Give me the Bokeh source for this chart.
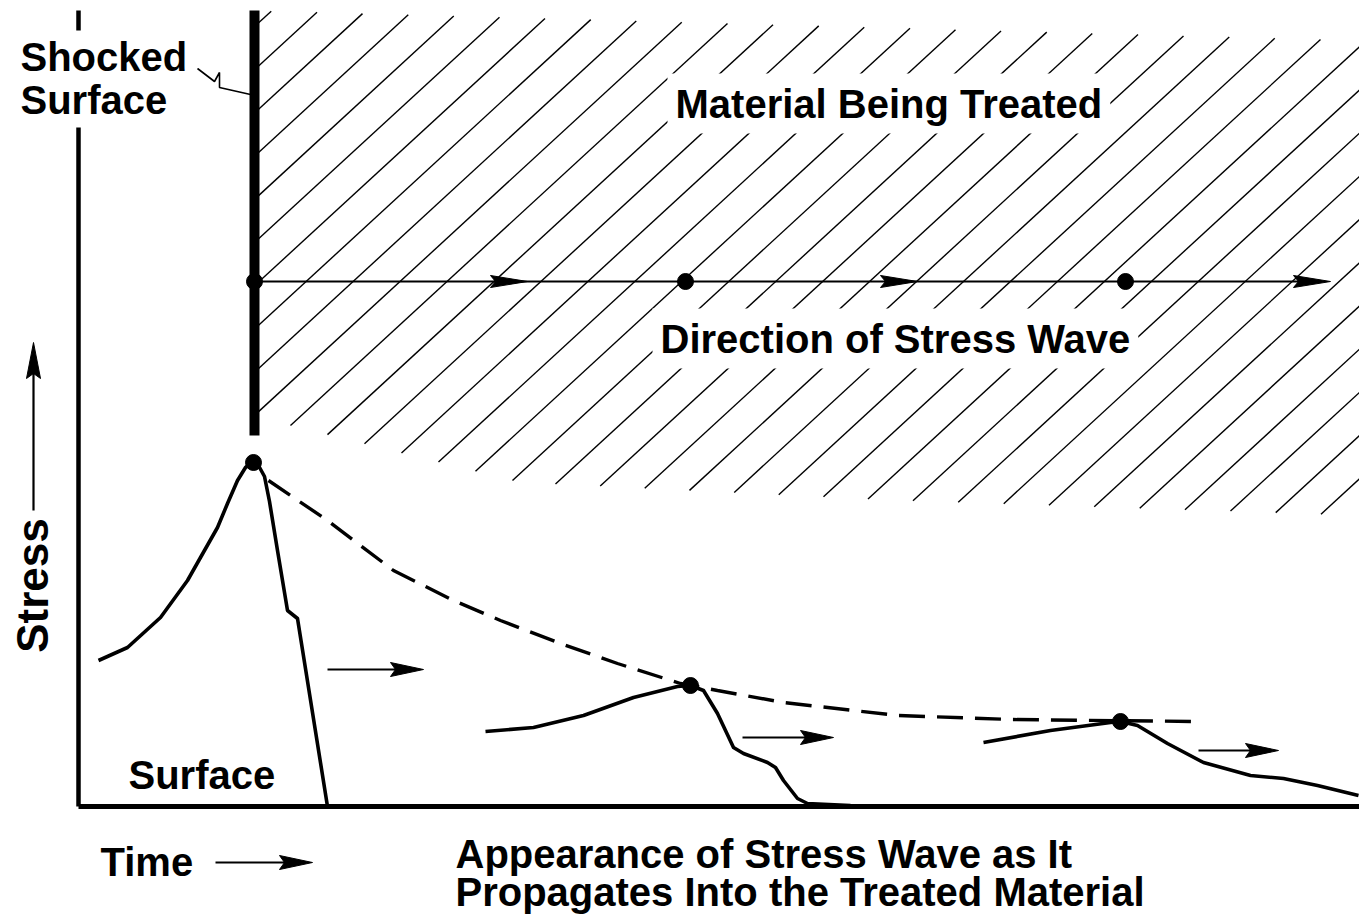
import numpy as np
from bokeh.plotting import figure
from bokeh.models import Range1d, Label
from bokeh.embed import file_html
from bokeh.resources import INLINE

# ---- data (time, stress) ----
wave1_t = [20, 49, 82, 109, 122, 139, 149, 159, 167, 172, 175, 180, 186, 191, 199, 209, 219, 249]
wave1_s = [146, 159, 189, 226, 249, 279, 303, 326, 339, 343, 344, 341, 330, 305, 256, 196, 188, 0]

wave2_t = [407, 455, 505, 555, 599, 612, 625, 639, 655, 665, 689, 697, 705, 719, 729, 772]
wave2_s = [75, 79, 91, 109, 120, 121, 116, 93, 59, 53, 44, 39, 26, 8, 3, 1]

wave3_t = [905, 972, 1032, 1042, 1059, 1089, 1125, 1172, 1205, 1239, 1280]
wave3_s = [64, 76, 84, 85, 81, 63, 44, 31, 28, 21, 11]

peak_t = [175, 612, 1042]
peak_s = [344, 121, 85]

envelope_t = [190, 249, 315, 375, 422, 482, 539, 602, 639, 705, 819, 932, 1119]
envelope_s = [326, 286, 236, 206, 186, 163, 143, 123, 116, 104, 91, 87, 85]

move_t0 = [249, 664, 1120]
move_t1 = [345, 755, 1200]
move_s = [137, 69, 56]

wave_dir_s = 525
wave_dir_start = 176
wave_dir_tips = [449, 839, 1252]
wave_dir_dots = [176, 607, 1047]

surface_t = 176
surface_s = [371, 796]

axis_top = 796
axis_right = 1281
axis_gap = [679, 776]

# hatch region of the treated material
hatch_top_t = [176, 1281]
hatch_top_s = [796, 766]
hatch_bot_t = [176, 212, 442, 822, 1281]
hatch_bot_s = [388, 381, 324, 306, 291]
hatch_slope = 0.92
hatch_step = 43.2
hatch_phase = 186.0

leader_t = [119, 136, 141, 141, 172]
leader_s = [738, 725, 734, 719, 712]

FONT = "Liberation Sans"

p = figure(width=1359, height=919, output_backend="svg", toolbar_location=None,
           x_range=Range1d(-78, 1281), y_range=Range1d(-113, 806),
           x_axis_type=None, y_axis_type=None, min_border=0,
           outline_line_color=None, background_fill_color="white",
           border_fill_color="white")
p.grid.visible = False


def head(tx, ty, dx, dy, L, W, notch=5):
    bx, by = tx - dx * L, ty - dy * L
    nx, ny = -dy, dx
    xs = [tx, bx + nx * W, tx - dx * (L - notch), bx - nx * W]
    ys = [ty, by + ny * W, ty - dy * (L - notch), by - ny * W]
    return xs, ys


# hatch lines
tt = np.arange(hatch_top_t[0], hatch_top_t[1] + 0.01, 0.25)
top = np.interp(tt, hatch_top_t, hatch_top_s)
bot = np.interp(tt, hatch_bot_t, hatch_bot_s)
hx, hy = [], []
c = hatch_phase
while c > -1400:
    c -= hatch_step
cc = c
while cc < 900:
    s = hatch_slope * tt + cc
    inside = (s >= bot) & (s <= top)
    if inside.any():
        idx = np.where(inside)[0]
        t0, t1 = tt[idx[0]], tt[idx[-1]]
        hx.append([t0, t1])
        hy.append([hatch_slope * t0 + cc, hatch_slope * t1 + cc])
    cc += hatch_step
p.multi_line(hx, hy, line_color="black", line_width=1.4)

# axes
p.line([0, 0], [0, axis_gap[0]], line_color="black", line_width=4.5)
p.line([0, 0], [axis_gap[1], axis_top], line_color="black", line_width=4.5)
p.line([0, axis_right], [0, 0], line_color="black", line_width=5)

# shocked surface
p.line([surface_t, surface_t], surface_s, line_color="black", line_width=10)
p.line(leader_t, leader_s, line_color="black", line_width=1.6)

# direction of stress wave
p.line([wave_dir_start, wave_dir_tips[-1] - 10], [wave_dir_s, wave_dir_s],
       line_color="black", line_width=2.2)
hxs, hys = [], []
for tip in wave_dir_tips:
    a, b = head(tip, wave_dir_s, 1, 0, 37, 6)
    hxs.append(a); hys.append(b)
p.patches(hxs, hys, fill_color="black", line_color="black", line_width=1)
p.scatter(wave_dir_dots, [wave_dir_s] * len(wave_dir_dots), size=16,
          fill_color="black", line_color="black")

# waves
for wt, ws in [(wave1_t, wave1_s), (wave2_t, wave2_s), (wave3_t, wave3_s)]:
    p.line(wt, ws, line_color="black", line_width=3.6, line_join="round")
p.line(envelope_t, envelope_s, line_color="black", line_width=3.4, line_dash="26 12")
p.scatter(peak_t, peak_s, size=16, fill_color="black", line_color="black")

# movement arrows
axs, ays = [], []
for t0, t1, s in zip(move_t0, move_t1, move_s):
    p.line([t0, t1 - 20], [s, s], line_color="black", line_width=2.2)
    a, b = head(t1, s, 1, 0, 33, 7)
    axs.append(a); ays.append(b)

# time / stress arrows
time_t = [137, 234]
time_s = -56
stress_t = -45
stress_s = [296, 464]
p.line([time_t[0], time_t[1] - 20], [time_s, time_s], line_color="black", line_width=2.2)
a, b = head(time_t[1], time_s, 1, 0, 33, 7)
axs.append(a); ays.append(b)
p.line([stress_t, stress_t], [stress_s[0], stress_s[1] - 20], line_color="black", line_width=2.2)
a, b = head(stress_t, stress_s[1], 0, 1, 36, 7)
axs.append(a); ays.append(b)
p.patches(axs, ays, fill_color="black", line_color="black", line_width=1)


def lab(text, x, y, size="40px", bg=False, angle=0.0, align="left", baseline="alphabetic"):
    kw = dict(x=x, y=y, text=text, text_font=FONT, text_font_style="bold",
              text_font_size=size, text_color="black", text_align=align,
              text_baseline=baseline, angle=angle)
    if bg:
        kw.update(background_fill_color="white", padding=8)
    p.add_layout(Label(**kw))


lab("Shocked", -58, 750)
lab("Surface", -58, 707)
lab("Material Being Treated", 589, 703, bg=True)
lab("Direction of Stress Wave", 574, 468, bg=True)
lab("Surface", 50, 32)
lab("Stress", -46, 221, size="44px", angle=np.pi / 2, align="center")
lab("Time", 22, -55)
lab("Appearance of Stress Wave as It", 377, -47)
lab("Propagates Into the Treated Material", 377, -85)

open("out.html", "w").write(file_html(p, INLINE))
